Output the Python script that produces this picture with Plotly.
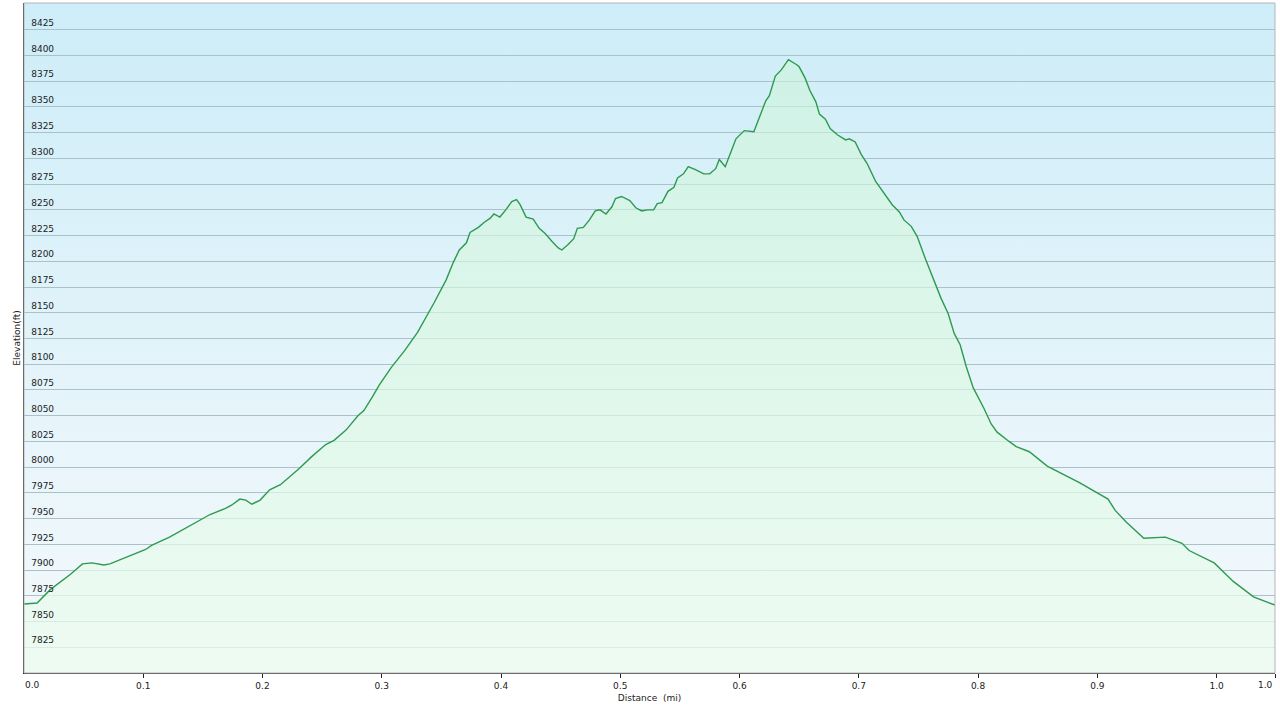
import base64
import plotly.graph_objects as go

# Distance along trail (mi)
distance = [0.000, 0.011, 0.022, 0.039, 0.049, 0.057, 0.067, 0.072, 0.102, 0.107,
            0.122, 0.139, 0.156, 0.169, 0.174, 0.181, 0.186, 0.191, 0.198, 0.206,
            0.215, 0.223, 0.231, 0.241, 0.253, 0.260, 0.270, 0.280, 0.285, 0.292,
            0.298, 0.308, 0.319, 0.330, 0.337, 0.344, 0.354, 0.360, 0.365, 0.371,
            0.374, 0.381, 0.386, 0.391, 0.394, 0.399, 0.404, 0.409, 0.413, 0.416,
            0.421, 0.427, 0.432, 0.437, 0.443, 0.448, 0.451, 0.456, 0.461, 0.464,
            0.469, 0.474, 0.479, 0.483, 0.488, 0.493, 0.496, 0.501, 0.508, 0.513,
            0.518, 0.523, 0.528, 0.531, 0.535, 0.540, 0.545, 0.548, 0.553, 0.557,
            0.563, 0.570, 0.575, 0.580, 0.583, 0.588, 0.593, 0.597, 0.604, 0.612,
            0.617, 0.622, 0.625, 0.630, 0.635, 0.641, 0.648, 0.650, 0.655, 0.659,
            0.664, 0.667, 0.672, 0.676, 0.682, 0.689, 0.692, 0.697, 0.702, 0.707,
            0.714, 0.721, 0.728, 0.734, 0.738, 0.744, 0.749, 0.756, 0.763, 0.769,
            0.775, 0.780, 0.785, 0.790, 0.796, 0.805, 0.811, 0.816, 0.826, 0.832,
            0.843, 0.858, 0.885, 0.909, 0.915, 0.924, 0.939, 0.957, 0.971, 0.977,
            0.998, 1.014, 1.031, 1.049]

# Elevation (ft)
elevation = [7867, 7868, 7881, 7896, 7906, 7907, 7905, 7906, 7920, 7924,
             7932, 7943, 7954, 7960, 7963, 7969, 7968, 7964, 7968, 7978,
             7983, 7991, 7999, 8010, 8022, 8026, 8036, 8050, 8055, 8068,
             8080, 8097, 8113, 8131, 8145, 8160, 8182, 8199, 8211, 8218,
             8228, 8233, 8238, 8242, 8246, 8243, 8250, 8258, 8260, 8255,
             8243, 8241, 8232, 8227, 8219, 8213, 8211, 8216, 8222, 8232,
             8233, 8240, 8249, 8250, 8246, 8253, 8261, 8263, 8259, 8252,
             8249, 8250, 8250, 8256, 8257, 8268, 8272, 8281, 8285, 8292,
             8289, 8285, 8285, 8290, 8299, 8292, 8307, 8319, 8327, 8326,
             8341, 8356, 8361, 8380, 8386, 8396, 8391, 8389, 8378, 8366,
             8355, 8343, 8338, 8329, 8323, 8318, 8319, 8316, 8304, 8295,
             8278, 8266, 8255, 8248, 8240, 8234, 8224, 8202, 8182, 8164,
             8149, 8130, 8119, 8098, 8077, 8057, 8042, 8034, 8025, 8020,
             8015, 8001, 7985, 7969, 7958, 7947, 7931, 7932, 7926, 7919,
             7907, 7889, 7874, 7866]

# Axis ticks
y_ticks = [7825, 7850, 7875, 7900, 7925, 7950, 7975, 8000, 8025, 8050, 8075, 8100,
           8125, 8150, 8175, 8200, 8225, 8250, 8275, 8300, 8325, 8350, 8375, 8400, 8425]
x_tickvals = [0.0, 0.1, 0.2, 0.3, 0.4, 0.5, 0.6, 0.7, 0.8, 0.9, 1.0, 1.049]
x_ticktext = ["0.0", "0.1", "0.2", "0.3", "0.4", "0.5", "0.6", "0.7", "0.8", "0.9", "1.0", "1.0"]

X_RANGE = [0, 1.049]
Y_RANGE = [7800, 8451]

FONT = "DejaVu Sans"
TXT = "#222"

# background gradient (light cyan to near white) as an svg image
svg = ("<svg xmlns='http://www.w3.org/2000/svg' width='100' height='100' viewBox='0 0 100 100' "
       "preserveAspectRatio='none'><defs><linearGradient id='g' x1='0' y1='0' x2='0' y2='1'>"
       "<stop offset='0' stop-color='#cdedf8'/><stop offset='0.55' stop-color='#e4f4fa'/>"
       "<stop offset='1' stop-color='#f5f9fc'/></linearGradient></defs>"
       "<rect x='0' y='0' width='100' height='100' fill='url(#g)'/></svg>")
bg_uri = "data:image/svg+xml;base64," + base64.b64encode(svg.encode()).decode()

fig = go.Figure()
fig.add_trace(go.Scatter(
    x=distance, y=elevation, mode="lines",
    line=dict(color="#2e9a4f", width=1.4),
    fill="tozeroy",
    fillgradient=dict(type="vertical", start=7800, stop=8400,
                      colorscale=[[0, "rgba(236,252,240,0.75)"],
                                  [1, "rgba(205,245,215,0.55)"]]),
    hoverinfo="x+y", showlegend=False,
))

# interior tick labels centred by the axis; end labels aligned to the plot edges
inner_text = [t if 0 < v < X_RANGE[1] else "" for v, t in zip(x_tickvals, x_ticktext)]
end_annotations = [
    dict(x=x_tickvals[0], y=0, xref="x", yref="paper", text=x_ticktext[0],
         showarrow=False, xanchor="left", yanchor="top", yshift=-5, xshift=-1,
         font=dict(family=FONT, size=9, color=TXT)),
    dict(x=x_tickvals[-1], y=0, xref="x", yref="paper", text=x_ticktext[-1],
         showarrow=False, xanchor="right", yanchor="top", yshift=-5, xshift=0,
         font=dict(family=FONT, size=9, color=TXT)),
]

fig.update_layout(
    width=1280, height=710,
    margin=dict(l=24, r=5, t=3, b=37),
    paper_bgcolor="white",
    plot_bgcolor="rgba(0,0,0,0)",
    font=dict(family=FONT, size=9, color=TXT),
    images=[dict(source=bg_uri, xref="paper", yref="paper", x=0, y=1,
                 sizex=1, sizey=1, xanchor="left", yanchor="top",
                 sizing="stretch", layer="below")],
    shapes=[dict(type="rect", xref="paper", yref="paper", x0=0, y0=0, x1=1, y1=1,
                 line=dict(color="#b5b5b5", width=1), layer="above")],
    annotations=end_annotations,
    xaxis=dict(
        range=X_RANGE, showgrid=False, zeroline=False,
        showline=True, linecolor=TXT, linewidth=1,
        ticks="outside", ticklen=4, tickcolor=TXT,
        tickvals=x_tickvals, ticktext=inner_text,
        tickfont=dict(family=FONT, size=9, color=TXT),
        title=dict(text="Distance\u00a0 (mi)", font=dict(family=FONT, size=9, color=TXT),
                   standoff=4),
        layer="above traces",
    ),
    yaxis=dict(
        range=Y_RANGE, showgrid=True, gridcolor="#a9c2ca", gridwidth=1.3,
        zeroline=False, showline=True, linecolor=TXT, linewidth=1,
        tickvals=y_ticks, ticks="",
        ticklabelposition="inside", ticklabelstandoff=6, ticklabelshift=-7,
        tickfont=dict(family=FONT, size=9, color=TXT),
        title=dict(text="Elevation(ft)", font=dict(family=FONT, size=9, color=TXT),
                   standoff=9),
        layer="above traces",
    ),
)

fig.write_html("out.html", config={"displayModeBar": False},
               post_script="document.body.style.margin='0';")
